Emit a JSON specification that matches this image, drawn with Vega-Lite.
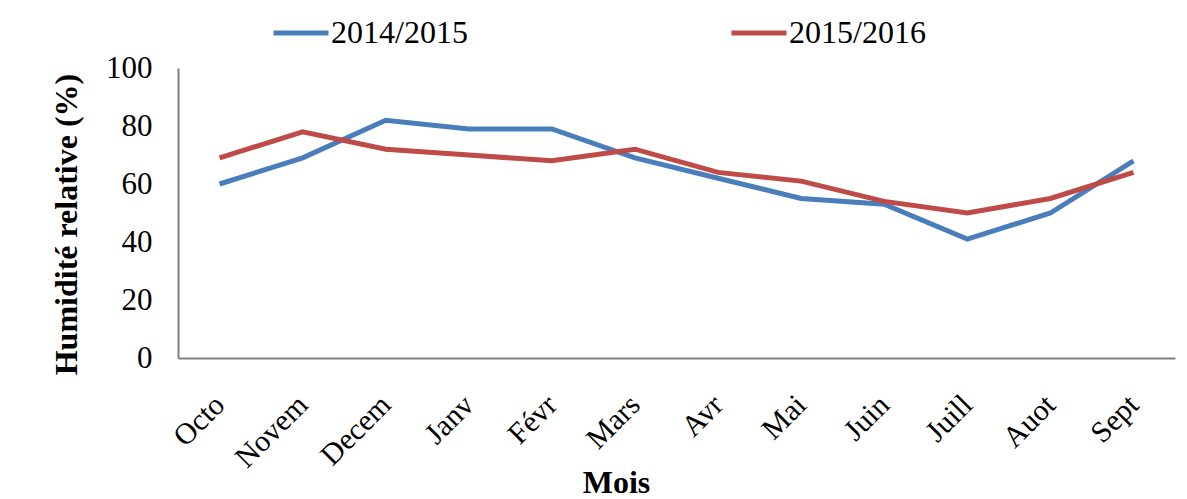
{
  "$schema": "https://vega.github.io/schema/vega-lite/v6.json",
  "width": 997,
  "height": 290,
  "autosize": {"type": "none"},
  "padding": {"left": 178, "top": 68, "right": 12, "bottom": 141},
  "background": "white",
  "config": {
    "font": "Liberation Serif",
    "view": {"stroke": null}
  },
  "data": {
    "values": [
      {"mois": "Octo", "saison": "2014/2015", "h": 60},
      {"mois": "Novem", "saison": "2014/2015", "h": 69},
      {"mois": "Decem", "saison": "2014/2015", "h": 82},
      {"mois": "Janv", "saison": "2014/2015", "h": 79},
      {"mois": "Févr", "saison": "2014/2015", "h": 79},
      {"mois": "Mars", "saison": "2014/2015", "h": 69},
      {"mois": "Avr", "saison": "2014/2015", "h": 62},
      {"mois": "Mai", "saison": "2014/2015", "h": 55},
      {"mois": "Juin", "saison": "2014/2015", "h": 53},
      {"mois": "Juill", "saison": "2014/2015", "h": 41},
      {"mois": "Auot", "saison": "2014/2015", "h": 50},
      {"mois": "Sept", "saison": "2014/2015", "h": 68},
      {"mois": "Octo", "saison": "2015/2016", "h": 69},
      {"mois": "Novem", "saison": "2015/2016", "h": 78},
      {"mois": "Decem", "saison": "2015/2016", "h": 72},
      {"mois": "Janv", "saison": "2015/2016", "h": 70},
      {"mois": "Févr", "saison": "2015/2016", "h": 68},
      {"mois": "Mars", "saison": "2015/2016", "h": 72},
      {"mois": "Avr", "saison": "2015/2016", "h": 64},
      {"mois": "Mai", "saison": "2015/2016", "h": 61},
      {"mois": "Juin", "saison": "2015/2016", "h": 54},
      {"mois": "Juill", "saison": "2015/2016", "h": 50},
      {"mois": "Auot", "saison": "2015/2016", "h": 55},
      {"mois": "Sept", "saison": "2015/2016", "h": 64}
    ]
  },
  "mark": {"type": "line", "strokeWidth": 5},
  "encoding": {
    "x": {
      "field": "mois",
      "type": "ordinal",
      "sort": null,
      "scale": {"type": "point", "padding": 0.5},
      "axis": {
        "title": "Mois",
        "titleFontSize": 32,
        "titleFontWeight": "bold",
        "titleColor": "black",
        "titleX": 438,
        "titleY": 134,
        "titleBaseline": "alphabetic",
        "labelAngle": -45,
        "labelAlign": "right",
        "labelBaseline": "middle",
        "labelFontSize": 30,
        "labelColor": "black",
        "labelPadding": 42,
        "ticks": false,
        "domainColor": "#808080",
        "domainWidth": 2,
        "grid": false
      }
    },
    "y": {
      "field": "h",
      "type": "quantitative",
      "scale": {"domain": [0, 100]},
      "axis": {
        "title": "Humidité relative (%)",
        "titleFontSize": 32,
        "titleFontWeight": "bold",
        "titleColor": "black",
        "titlePadding": 22,
        "titleY": 156,
        "values": [0, 20, 40, 60, 80, 100],
        "labelFontSize": 31,
        "labelColor": "black",
        "labelPadding": 26,
        "ticks": false,
        "domainColor": "#808080",
        "domainWidth": 2,
        "grid": false
      }
    },
    "color": {
      "field": "saison",
      "type": "nominal",
      "scale": {"domain": ["2014/2015", "2015/2016"], "range": ["#4A7EBB", "#BE4B48"]},
      "legend": {
        "title": null,
        "orient": "none",
        "legendX": 93,
        "legendY": -65,
        "direction": "horizontal",
        "columns": 2,
        "columnPadding": 253,
        "symbolType": "stroke",
        "symbolSize": 3025,
        "symbolStrokeWidth": 5,
        "labelFontSize": 32,
        "labelColor": "black",
        "labelOffset": 0,
        "labelLimit": 300
      }
    }
  }
}
